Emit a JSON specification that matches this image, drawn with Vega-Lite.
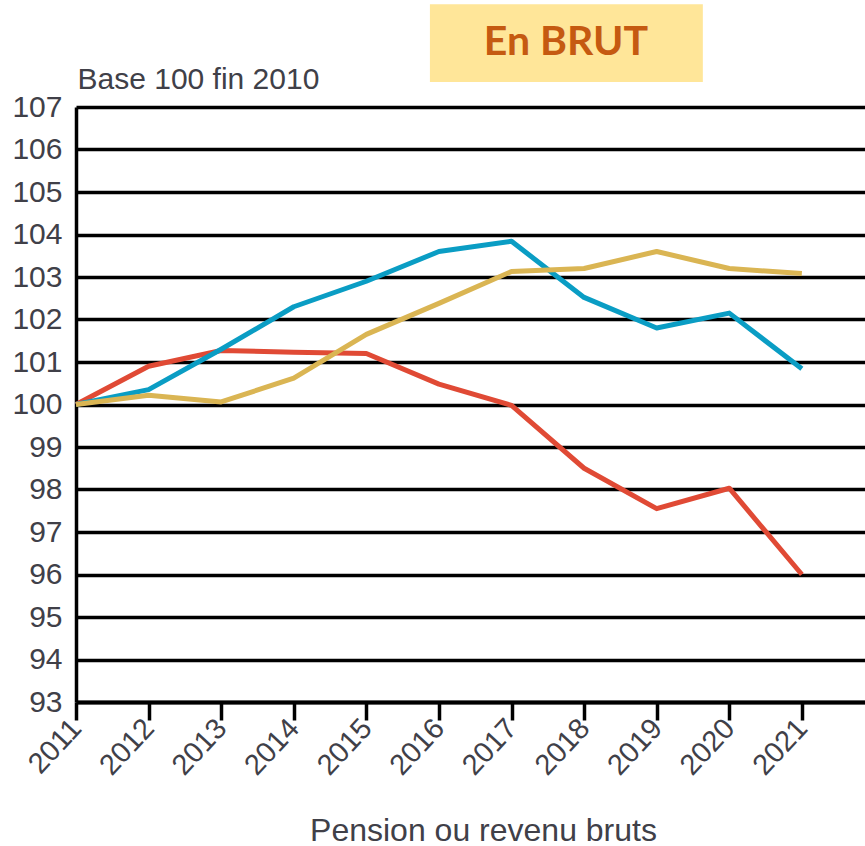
{
  "$schema": "https://vega.github.io/schema/vega-lite/v6.json",
  "width": 789,
  "height": 595,
  "autosize": {"type": "none"},
  "padding": {"left": 76, "top": 107, "right": 0, "bottom": 144},
  "background": "white",
  "config": {
    "view": {"stroke": null},
    "font": "Liberation Sans"
  },
  "datasets": {
    "series": [
      {"annee": 2011, "serie": "Rouge", "indice": 100.0},
      {"annee": 2012, "serie": "Rouge", "indice": 100.9},
      {"annee": 2013, "serie": "Rouge", "indice": 101.27},
      {"annee": 2014, "serie": "Rouge", "indice": 101.23},
      {"annee": 2015, "serie": "Rouge", "indice": 101.2},
      {"annee": 2016, "serie": "Rouge", "indice": 100.48},
      {"annee": 2017, "serie": "Rouge", "indice": 99.98},
      {"annee": 2018, "serie": "Rouge", "indice": 98.5},
      {"annee": 2019, "serie": "Rouge", "indice": 97.55},
      {"annee": 2020, "serie": "Rouge", "indice": 98.03},
      {"annee": 2021, "serie": "Rouge", "indice": 96.0},
      {"annee": 2011, "serie": "Bleu", "indice": 100.0},
      {"annee": 2012, "serie": "Bleu", "indice": 100.35},
      {"annee": 2013, "serie": "Bleu", "indice": 101.3},
      {"annee": 2014, "serie": "Bleu", "indice": 102.3},
      {"annee": 2015, "serie": "Bleu", "indice": 102.9},
      {"annee": 2016, "serie": "Bleu", "indice": 103.6},
      {"annee": 2017, "serie": "Bleu", "indice": 103.84},
      {"annee": 2018, "serie": "Bleu", "indice": 102.52},
      {"annee": 2019, "serie": "Bleu", "indice": 101.8},
      {"annee": 2020, "serie": "Bleu", "indice": 102.15},
      {"annee": 2021, "serie": "Bleu", "indice": 100.84},
      {"annee": 2011, "serie": "Jaune", "indice": 100.0},
      {"annee": 2012, "serie": "Jaune", "indice": 100.22},
      {"annee": 2013, "serie": "Jaune", "indice": 100.06},
      {"annee": 2014, "serie": "Jaune", "indice": 100.62},
      {"annee": 2015, "serie": "Jaune", "indice": 101.65},
      {"annee": 2016, "serie": "Jaune", "indice": 102.38},
      {"annee": 2017, "serie": "Jaune", "indice": 103.13},
      {"annee": 2018, "serie": "Jaune", "indice": 103.2},
      {"annee": 2019, "serie": "Jaune", "indice": 103.6},
      {"annee": 2020, "serie": "Jaune", "indice": 103.2},
      {"annee": 2021, "serie": "Jaune", "indice": 103.08}
    ],
    "titre": [
      {"texte": "En BRUT"}
    ]
  },
  "layer": [
    {
      "data": {"name": "series"},
      "mark": {"type": "line", "strokeWidth": 5, "strokeJoin": "round", "strokeCap": "butt"},
      "encoding": {
        "x": {
          "field": "annee",
          "type": "quantitative",
          "scale": {"domain": [2011, 2021.87], "nice": false, "zero": false},
          "axis": {
            "values": [2011, 2012, 2013, 2014, 2015, 2016, 2017, 2018, 2019, 2020, 2021],
            "format": "d",
            "grid": false,
            "domainColor": "black",
            "domainWidth": 4,
            "tickColor": "black",
            "tickWidth": 3.5,
            "tickSize": 18,
            "labelAngle": -47,
            "labelPadding": 3,
            "labelFontSize": 29,
            "labelColor": "#404048",
            "labelFont": "Liberation Sans",
            "title": "Pension ou revenu bruts",
            "titleFont": "Liberation Sans",
            "titleFontSize": 32,
            "titleFontWeight": "normal",
            "titleColor": "#404048",
            "titleX": 407,
            "titleY": 138,
            "titleBaseline": "alphabetic",
            "titleAnchor": "middle"
          }
        },
        "y": {
          "field": "indice",
          "type": "quantitative",
          "scale": {"domain": [93, 107], "nice": false, "zero": false},
          "axis": {
            "values": [93, 94, 95, 96, 97, 98, 99, 100, 101, 102, 103, 104, 105, 106, 107],
            "grid": true,
            "gridColor": "black",
            "gridWidth": 3.5,
            "gridOpacity": 1,
            "ticks": false,
            "domainColor": "black",
            "domainWidth": 3.5,
            "labelPadding": 14,
            "labelFontSize": 30,
            "labelColor": "#404048",
            "labelFont": "Liberation Sans",
            "title": "Base 100 fin 2010",
            "titleAngle": 0,
            "titleFont": "Liberation Sans",
            "titleFontSize": 30,
            "titleFontWeight": "normal",
            "titleColor": "#404048",
            "titleAlign": "left",
            "titleBaseline": "alphabetic",
            "titleX": 1,
            "titleY": -19
          }
        },
        "color": {
          "field": "serie",
          "type": "nominal",
          "scale": {"domain": ["Rouge", "Bleu", "Jaune"], "range": ["#E04A35", "#0A9DC4", "#DAB553"]},
          "legend": null
        }
      }
    },
    {
      "data": {"name": "titre"},
      "mark": {"type": "rect", "color": "#FFE699", "clip": false},
      "encoding": {
        "x": {"datum": 2015.876, "type": "quantitative"},
        "x2": {"datum": 2019.636},
        "y": {"datum": 109.42, "type": "quantitative"},
        "y2": {"datum": 107.59}
      }
    },
    {
      "data": {"name": "titre"},
      "mark": {"type": "text", "font": "Lato", "fontWeight": "bold", "fontSize": 41, "color": "#C55A11", "align": "center", "baseline": "middle", "clip": false},
      "encoding": {
        "x": {"datum": 2017.75, "type": "quantitative"},
        "y": {"datum": 108.5, "type": "quantitative"},
        "text": {"field": "texte"}
      }
    }
  ]
}
